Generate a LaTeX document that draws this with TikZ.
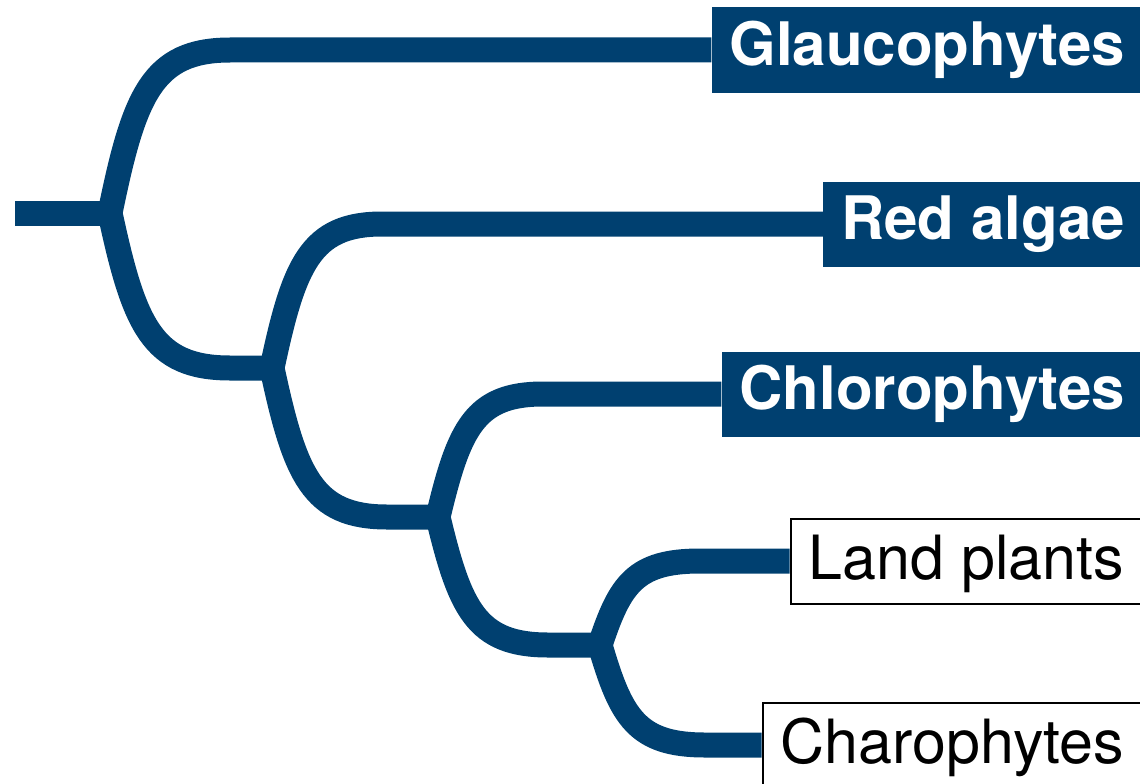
\documentclass[tikz,border=0pt]{standalone}
\usepackage{fontspec}
\setmainfont{TeX Gyre Heros}
\usepackage{tikz}
\usetikzlibrary{calc, backgrounds}
\definecolor{cladeblue}{RGB}{0,64,112}

\begin{document}
\begin{tikzpicture}[x=1pt, y=-1pt,
    leaf/.style={font=\fontsize{60}{60}\selectfont, minimum height=85pt, inner xsep=18pt, inner ysep=0pt, anchor=east},
    darkleaf/.style={leaf, fill=cladeblue, text=white, font=\fontsize{60}{60}\selectfont\bfseries},
    lightleaf/.style={leaf, fill=white, draw=black, line width=2pt, font=\fontsize{61}{61}\selectfont,
      text height=46pt, text depth=9pt},
    branch/.style={line width=25pt, cladeblue},
    clade/.style={to path={let \p1=(\tikztostart), \p2=(\tikztotarget) in
      .. controls ({\x1+0.2*#1}, {\y1+0.72*(\y2-\y1)}) and ({\x1+0.35*#1}, \y2) .. ({\x1+#1}, \y2) -- (\tikztotarget)}}]
        \useasboundingbox (0,0) rectangle (1140,784);
        \clip (0,0) rectangle (1140,784);
        % groups
        \foreach \name/\y/\txt in {glauco/50/Glaucophytes, red/224/Red algae, chloro/394/Chlorophytes} {
          \node[darkleaf] (\name) at (1143,\y) {\txt};
        }
        \foreach \name/\y/\txt in {land/561/Land plants, charo/745/Charophytes} {
          \node[lightleaf] (\name) at (1143,\y) {\txt};
        }
        % splits
        \coordinate (root) at (15,213);
        \coordinate (n1) at (110,213);
        \coordinate (n2) at (272,368);
        \coordinate (n3) at (438,517);
        \coordinate (n4) at (600,645);
        % branches
        \begin{scope}[on background layer]
          \draw[branch] (root) -- (n1);
          \foreach \a/\b/\w in {n1/glauco/120, n1/n2/120, n2/red/110, n2/n3/115,
                                n3/chloro/105, n3/n4/110, n4/land/100, n4/charo/105} {
            \draw[branch] (\a) to[clade=\w] (\b);
          }
        \end{scope}
      \end{tikzpicture}
\end{document}
